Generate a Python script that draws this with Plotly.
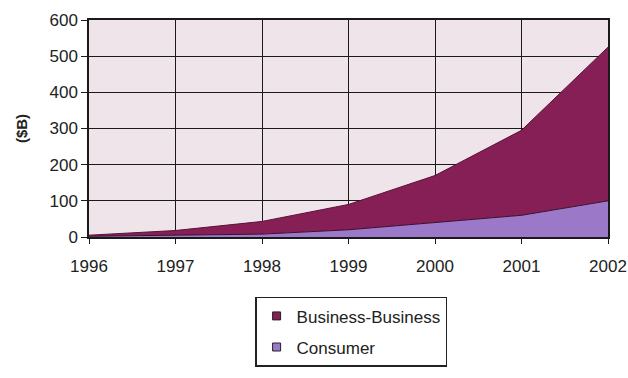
import plotly.graph_objects as go

years = [1996, 1997, 1998, 1999, 2000, 2001, 2002]
consumer = [2, 5, 8, 20, 40, 60, 100]
business = [3, 13, 35, 70, 130, 235, 425]

series = [
    ("Consumer", consumer, "#9b78c8", "#3a1030"),
    ("Business-Business", business, "#861f55", "#5a1238"),
]

fig = go.Figure()
for name, vals, fill, edge in series:
    fig.add_trace(go.Scatter(
        x=years, y=vals, name=name, stackgroup="one",
        mode="lines", line=dict(color=edge, width=1),
        fillcolor=fill, showlegend=False,
    ))

# small square swatches for the legend
for name, vals, fill, edge in reversed(series):
    fig.add_trace(go.Scatter(
        x=[None], y=[None], name=name, mode="markers",
        legendgroup=name,
        marker=dict(symbol="square", size=8, color=fill,
                    line=dict(color="#222", width=1)),
    ))

fig.update_layout(
    width=628, height=378,
    margin=dict(l=89, r=20, t=20, b=140),
    paper_bgcolor="white",
    plot_bgcolor="#efe4e9",
    font=dict(family="Liberation Sans, Arial, sans-serif", size=17, color="#222"),
    showlegend=True,
    legend=dict(
        traceorder="grouped", tracegroupgap=6,
        x=0.505, xanchor="center", y=-0.27, yanchor="top",
        bordercolor="#222", borderwidth=1.5, bgcolor="white",
        font=dict(size=17), itemsizing="trace", itemwidth=30,
    ),
)
fig.update_xaxes(
    range=[1996, 2002], tickvals=years, ticktext=[str(y) for y in years],
    showgrid=True, gridcolor="#1a1a1a", gridwidth=1,
    showline=True, linecolor="#1a1a1a", linewidth=1.5,
    ticks="outside", ticklen=5, tickcolor="#1a1a1a",
    ticklabelstandoff=8, automargin=False,
    zeroline=False, mirror=True,
)
fig.update_yaxes(
    range=[0, 600], tickvals=[0, 100, 200, 300, 400, 500, 600],
    showgrid=True, gridcolor="#1a1a1a", gridwidth=1,
    showline=True, linecolor="#1a1a1a", linewidth=1.5,
    ticks="outside", ticklen=6, tickcolor="#1a1a1a",
    automargin=False,
    zeroline=False, mirror=True,
    title=dict(text="<b>($B)</b>", font=dict(size=15), standoff=18),
)

fig.write_html("out.html")
